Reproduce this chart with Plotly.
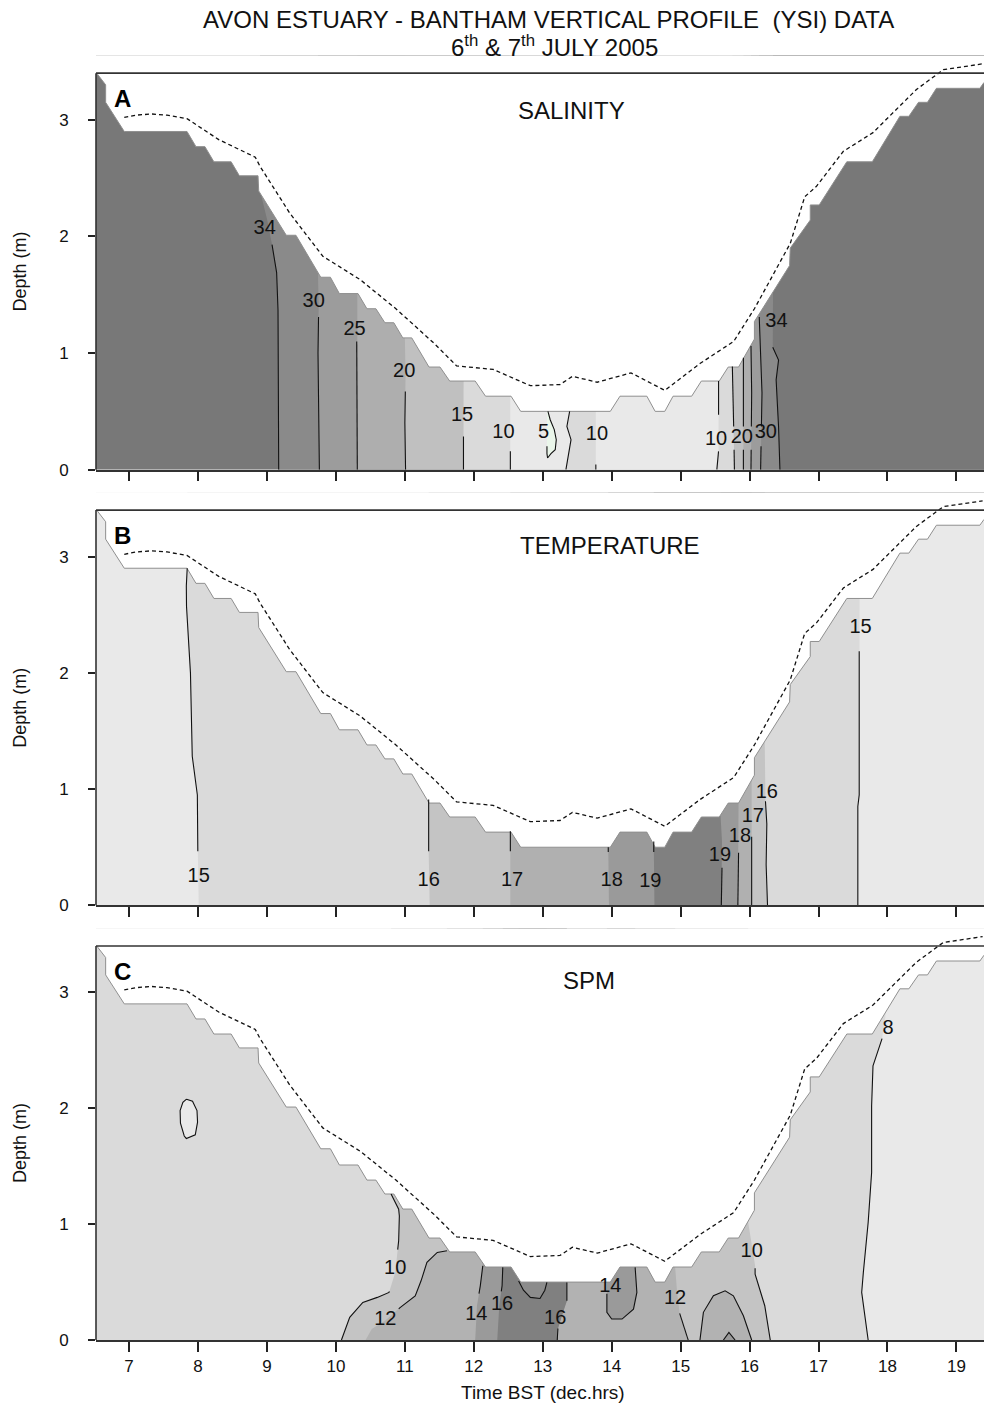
import plotly.graph_objects as go

# ---------------- data ----------------
TIME_TICKS = list(range(7, 20))
DEPTH_TICKS = [0, 1, 2, 3]

# water-surface (top of data) profile: time (h), depth (m)
SURF_T = [6.53, 6.66, 6.66, 6.93, 7.84, 7.97, 8.10, 8.23, 8.48, 8.60, 8.87, 8.88, 9.28, 9.42,
          9.78, 9.92, 10.05, 10.32, 10.45, 10.58, 10.71, 10.84, 10.97, 11.10, 11.35, 11.51,
          11.65, 12.02, 12.17, 12.54, 12.68, 13.98, 14.12, 14.51, 14.63, 14.77, 14.89, 15.16,
          15.30, 15.56, 15.69, 15.84, 16.07, 16.07, 16.58, 16.59, 16.88, 16.88, 17.01, 17.41,
          17.78, 18.18, 18.31, 18.45, 18.58, 18.71, 19.34, 19.40]
SURF_D = [3.40, 3.30, 3.15, 2.90, 2.90, 2.77, 2.77, 2.64, 2.64, 2.52, 2.52, 2.39, 2.01, 2.01,
          1.65, 1.65, 1.51, 1.51, 1.38, 1.38, 1.26, 1.26, 1.13, 1.13, 0.88, 0.88,
          0.76, 0.76, 0.63, 0.63, 0.50, 0.50, 0.63, 0.63, 0.50, 0.50, 0.63, 0.63,
          0.76, 0.76, 0.88, 0.88, 1.12, 1.27, 1.75, 1.90, 2.14, 2.27, 2.27, 2.64,
          2.64, 3.03, 3.03, 3.15, 3.15, 3.27, 3.27, 3.32]

# dashed line (measured water depth)
DASH_T = [6.93, 7.10, 7.33, 7.55, 7.84, 7.97, 8.30, 8.83, 8.90, 9.33, 9.81, 10.35, 10.87, 11.43,
          11.75, 12.28, 12.82, 13.25, 13.43, 13.79, 14.28, 14.77, 15.28, 15.77, 16.07, 16.59,
          16.80, 16.97, 17.36, 17.79, 18.18, 18.42, 18.81, 19.38]
DASH_D = [3.02, 3.04, 3.05, 3.04, 3.01, 2.96, 2.83, 2.68, 2.60, 2.20, 1.83, 1.63, 1.38, 1.08,
          0.89, 0.86, 0.72, 0.73, 0.80, 0.75, 0.83, 0.68, 0.91, 1.10, 1.38, 1.94,
          2.34, 2.43, 2.73, 2.89, 3.12, 3.26, 3.43, 3.48]

# ---- A: salinity contours (time, depth from bed upward) ----
S34L_T = [9.17, 9.16, 9.16, 9.14, 9.08, 9.00, 8.90]
S34L_D = [0.00, 0.80, 1.37, 1.69, 1.91, 2.15, 2.39]
S30L_T = [9.76, 9.75, 9.74, 9.75, 9.74]
S30L_D = [0.00, 0.50, 1.00, 1.40, 1.66]
S25L_T = [10.31, 10.31, 10.30, 10.31]
S25L_D = [0.00, 0.60, 1.20, 1.51]
S20L_T = [11.01, 11.00, 11.01, 11.00]
S20L_D = [0.00, 0.40, 0.80, 1.13]
S15L_T = [11.85, 11.85, 11.86]
S15L_D = [0.00, 0.40, 0.76]
S10L_T = [12.53, 12.53, 12.52]
S10L_D = [0.00, 0.30, 0.63]
S05_T = [13.075, 13.108, 13.167, 13.196, 13.181, 13.119, 13.07, 13.061, 13.061]
S05_D = [0.50, 0.428, 0.343, 0.257, 0.171, 0.137, 0.10, 0.137, 0.20]
S10B_T = [13.336, 13.37, 13.41, 13.35, 13.39]
S10B_D = [0.00, 0.114, 0.257, 0.371, 0.50]
S10C_T = [13.77, 13.77]
S10C_D = [0.00, 0.50]
S10R_T = [15.525, 15.55, 15.55, 15.55]
S10R_D = [0.00, 0.16, 0.47, 0.76]
S15R_T = [15.78, 15.765, 15.75]
S15R_D = [0.00, 0.51, 0.885]
S20R_T = [15.91, 15.91, 15.91]
S20R_D = [0.00, 0.50, 0.96]
S25R_T = [16.02, 16.03, 16.02]
S25R_D = [0.00, 0.66, 1.06]
S30R_T = [16.16, 16.18, 16.14]
S30R_D = [0.00, 0.66, 1.31]
S34R_T = [16.44, 16.435, 16.42, 16.405, 16.385, 16.42, 16.336, 16.34]
S34R_D = [0.00, 0.20, 0.37, 0.54, 0.77, 0.94, 1.043, 1.53]

SAL_LAB_TXT = ["34", "30", "25", "20", "15", "10", "5", "10", "10", "20", "30", "34"]
SAL_LAB_T = [8.967, 9.678, 10.27, 10.99, 11.83, 12.43, 13.012, 13.786, 15.514, 15.887, 16.235, 16.39]
SAL_LAB_D = [2.065, 1.44, 1.20, 0.84, 0.457, 0.314, 0.314, 0.30, 0.257, 0.274, 0.314, 1.27]

# ---- B: temperature contours ----
T15L_T = [8.01, 8.00, 7.997, 7.997, 7.99, 7.916, 7.89, 7.833, 7.83, 7.843]
T15L_D = [0.00, 0.30, 0.466, 0.739, 0.95, 1.283, 2.00, 2.571, 2.75, 2.90]
T16L_T = [11.36, 11.345, 11.345]
T16L_D = [0.00, 0.466, 0.91]
T17L_T = [12.53, 12.53, 12.53]
T17L_D = [0.00, 0.466, 0.638]
T18L_T = [13.96, 13.95, 13.95]
T18L_D = [0.00, 0.46, 0.50]
T19L_T = [14.62, 14.61, 14.61]
T19L_D = [0.00, 0.46, 0.55]
T19R_T = [15.59, 15.60, 15.60, 15.58]
T19R_D = [0.00, 0.33, 0.55, 0.76]
T18R_T = [15.83, 15.84, 15.84]
T18R_D = [0.00, 0.45, 0.88]
T17R_T = [16.03, 16.03, 16.03]
T17R_D = [0.00, 0.59, 1.10]
T16R_T = [16.26, 16.24, 16.25, 16.23, 16.22]
T16R_D = [0.00, 0.35, 0.70, 0.90, 1.38]
T15R_T = [17.57, 17.57, 17.59, 17.59, 17.60]
T15R_D = [0.00, 0.85, 0.95, 2.19, 2.64]

TEMP_LAB_TXT = ["15", "16", "17", "18", "19", "19", "18", "17", "16", "15"]
TEMP_LAB_T = [8.01, 11.345, 12.554, 14.0, 14.56, 15.57, 15.86, 16.046, 16.25, 17.61]
TEMP_LAB_D = [0.24, 0.21, 0.21, 0.21, 0.20, 0.424, 0.59, 0.762, 0.963, 2.39]

# ---- C: SPM contours ----
C08_T = [17.72, 17.626, 17.65, 17.72, 17.77, 17.77, 17.79, 17.92, 17.97]
C08_D = [0.00, 0.411, 0.584, 1.015, 1.446, 2.02, 2.365, 2.595, 2.79]
C08B_T = [7.833, 7.92, 7.985, 7.993, 7.96, 7.83, 7.80, 7.745, 7.74, 7.78, 7.833]
C08B_D = [2.078, 2.06, 1.98, 1.88, 1.77, 1.739, 1.76, 1.87, 1.98, 2.05, 2.078]
C10L_T = [10.08, 10.20, 10.39, 10.60, 10.77, 10.86, 10.91, 10.92, 10.91, 10.80]
C10L_D = [0.00, 0.196, 0.325, 0.368, 0.411, 0.583, 0.856, 1.07, 1.129, 1.259]
C10R_T = [16.30, 16.22, 16.08, 16.08, 15.98]
C10R_D = [0.00, 0.296, 0.569, 0.64, 1.014]
C12L_T = [10.43, 10.52, 10.72, 10.93, 11.15, 11.235, 11.32, 11.47, 11.61]
C12L_D = [0.00, 0.095, 0.17, 0.28, 0.38, 0.511, 0.67, 0.756, 0.77]
C12R_T = [15.11, 14.99, 14.95, 14.92]
C12R_D = [0.00, 0.21, 0.40, 0.63]
C12B_T = [15.28, 15.33, 15.475, 15.645, 15.765, 15.91, 16.03]
C12B_D = [0.00, 0.239, 0.382, 0.425, 0.382, 0.21, 0.00]
C14L_T = [12.02, 12.046, 12.094, 12.13]
C14L_D = [0.00, 0.296, 0.468, 0.64]
C16L_T = [12.34, 12.37, 12.41, 12.42]
C16L_D = [0.00, 0.30, 0.468, 0.627]
C16R_T = [13.21, 13.22, 13.30, 13.35, 13.35]
C16R_D = [0.00, 0.10, 0.25, 0.34, 0.497]
C16U_T = [12.65, 12.72, 12.82, 12.96, 13.03, 13.06]
C16U_D = [0.51, 0.43, 0.368, 0.359, 0.43, 0.497]
C14B_T = [13.93, 13.93, 14.00, 14.15, 14.316, 14.365, 14.34]
C14B_D = [0.40, 0.239, 0.181, 0.181, 0.267, 0.411, 0.627]
C14S_T = [15.62, 15.70, 15.79]
C14S_D = [0.00, 0.066, 0.00]

SPM_LAB_TXT = ["10", "12", "14", "16", "16", "14", "12", "10", "8"]
SPM_LAB_T = [10.86, 10.717, 12.036, 12.41, 13.18, 13.98, 14.92, 16.03, 18.01]
SPM_LAB_D = [0.612, 0.172, 0.216, 0.30, 0.18, 0.457, 0.353, 0.756, 2.687]

PANEL_LETTERS = ["A", "B", "C"]
PANEL_NAMES = ["SALINITY", "TEMPERATURE", "SPM"]

# ---------------- layout constants ----------------
W, H = 984, 1418       # page height; positions below are given on a 1409-row grid
REF_H = 1409
ML = 96
X0, X1 = 6.52, 19.40
Y1 = 3.55          # axis top (frame drawn at 3.4)
FRAME_TOP = 3.40
YT, XR = 3.9, 19.8
FONT = "Liberation Sans, Arial, Helvetica, sans-serif"
# panel bottom pixel rows & pixels per metre
PANEL_PX = [(470, 116.7), (906, 116.33), (1341, 116.0)]
DOMAINS = [(1 - b / REF_H, 1 - (b - Y1 * s) / REF_H) for b, s in PANEL_PX]

LINE_C = "#111111"
EDGE_C = "#8f8f8f"


def px_y(py):
    return 1 - py / REF_H


def px_x(px):
    return (px - ML) / (W - ML)


def cut(t, d, lo=-1e9, hi=1e9):
    xs, ys = [], []
    open_ = False
    for i in range(len(t) - 1):
        t0, d0, t1, d1 = t[i], d[i], t[i + 1], d[i + 1]
        if d1 != d0:
            sa, sb = (lo - d0) / (d1 - d0), (hi - d0) / (d1 - d0)
            s0, s1 = max(0.0, min(sa, sb)), min(1.0, max(sa, sb))
        else:
            s0, s1 = (0.0, 1.0) if lo <= d0 <= hi else (1.0, 0.0)
        if s0 >= s1:
            if open_:
                xs.append(None); ys.append(None); open_ = False
            continue
        if not (open_ and s0 == 0.0):
            if open_:
                xs.append(None); ys.append(None)
            xs.append(t0 + s0 * (t1 - t0)); ys.append(d0 + s0 * (d1 - d0))
        xs.append(t0 + s1 * (t1 - t0)); ys.append(d0 + s1 * (d1 - d0))
        open_ = s1 == 1.0
        if not open_:
            xs.append(None); ys.append(None)
    return xs, ys


def drawn(t, d, keep):
    xs, ys = [], []
    for lo, hi in keep:
        a, b = cut(t, d, lo, hi)
        xs += a + [None]; ys += b + [None]
    return xs, ys


def right_poly(t, d):
    return t + [t[-1], XR, XR, t[0]], d + [YT, YT, 0, 0]


def between_poly(tl, dl, tr, dr):
    return tl + [tl[-1], tr[-1]] + tr[::-1], dl + [YT, YT] + dr[::-1]


def cap_poly(t, d):
    return t + [t[-1], t[0]], d + [YT, YT]


fig = go.Figure()


def axes(n):
    return ("x%d" % n if n > 1 else "x"), ("y%d" % n if n > 1 else "y")


def add_fill(n, xy, color):
    xa, ya = axes(n)
    fig.add_trace(go.Scatter(x=xy[0], y=xy[1], xaxis=xa, yaxis=ya, mode="lines", fill="toself",
                             fillcolor=color, line=dict(width=0, color=color),
                             hoverinfo="skip", showlegend=False))


def add_line(n, xy, color=LINE_C, width=1.1, dash=None):
    xa, ya = axes(n)
    fig.add_trace(go.Scatter(x=xy[0], y=xy[1], xaxis=xa, yaxis=ya, mode="lines",
                             line=dict(width=width, color=color, dash=dash),
                             connectgaps=False, hoverinfo="skip", showlegend=False))


def add_labels(n, ts, ds, txt):
    xa, ya = axes(n)
    fig.add_trace(go.Scatter(x=ts, y=ds, text=txt, mode="text", textposition="middle center",
                             xaxis=xa, yaxis=ya,
                             textfont=dict(family=FONT, size=20, color="#111111"),
                             hoverinfo="skip", showlegend=False))


def base(n, color):
    add_fill(n, ([X0, XR, XR, X0], [0, 0, YT, YT]), color)


def finish(n):
    mask_t = [6.3, X0 - 0.01] + SURF_T + [XR, XR, 6.3]
    mask_d = [3.40, 3.40] + SURF_D + [SURF_D[-1], YT, YT]
    add_fill(n, (mask_t, mask_d), "#ffffff")
    add_line(n, (SURF_T, SURF_D), color=EDGE_C, width=1.0)


# ---------- panel A ----------
base(1, "#787878")
for (t, d), c in [((S34L_T, S34L_D), "#8a8a8a"), ((S30L_T, S30L_D), "#9c9c9c"),
                  ((S25L_T, S25L_D), "#aeaeae"), ((S20L_T, S20L_D), "#c0c0c0"),
                  ((S15L_T, S15L_D), "#dadada"), ((S10L_T, S10L_D), "#e9e9e9")]:
    add_fill(1, right_poly(t, d), c)
add_fill(1, cap_poly(S05_T, S05_D), "#eaf6ea")
for (t, d), c in [((S10B_T, S10B_D), "#dadada"), ((S10C_T, S10C_D), "#e9e9e9"),
                  ((S10R_T, S10R_D), "#dadada"), ((S15R_T, S15R_D), "#c0c0c0"),
                  ((S20R_T, S20R_D), "#aeaeae"), ((S25R_T, S25R_D), "#9c9c9c"),
                  ((S30R_T, S30R_D), "#8a8a8a"), ((S34R_T, S34R_D), "#787878")]:
    add_fill(1, right_poly(t, d), c)
finish(1)
for t, d, keep in [(S34L_T, S34L_D, [(-1, 1.93)]), (S30L_T, S30L_D, [(-1, 1.31)]),
                   (S25L_T, S25L_D, [(-1, 1.10)]), (S20L_T, S20L_D, [(-1, 0.67)]),
                   (S15L_T, S15L_D, [(-1, 0.285)]), (S10L_T, S10L_D, [(-1, 0.157)]),
                   (S05_T, S05_D, [(-1, 9)]), (S10B_T, S10B_D, [(-1, 9)]),
                   (S10C_T, S10C_D, [(-1, 0.045)]),
                   (S10R_T, S10R_D, [(-1, 0.157), (0.471, 9)]),
                   (S15R_T, S15R_D, [(-1, 0.17), (0.37, 9)]),
                   (S20R_T, S20R_D, [(-1, 0.17), (0.37, 9)]),
                   (S25R_T, S25R_D, [(-1, 0.17), (0.37, 9)]),
                   (S30R_T, S30R_D, [(-1, 0.20), (0.37, 9)]),
                   (S34R_T, S34R_D, [(-1, 1.05)])]:
    add_line(1, drawn(t, d, keep))
add_labels(1, SAL_LAB_T, SAL_LAB_D, SAL_LAB_TXT)

# ---------- panel B ----------
base(2, "#e9e9e9")
for (t, d), c in [((T15L_T, T15L_D), "#dadada"), ((T16L_T, T16L_D), "#c4c4c4"),
                  ((T17L_T, T17L_D), "#b0b0b0"), ((T18L_T, T18L_D), "#9a9a9a"),
                  ((T19L_T, T19L_D), "#808080"), ((T19R_T, T19R_D), "#9a9a9a"),
                  ((T18R_T, T18R_D), "#b0b0b0"), ((T17R_T, T17R_D), "#c4c4c4"),
                  ((T16R_T, T16R_D), "#dadada"), ((T15R_T, T15R_D), "#e9e9e9")]:
    add_fill(2, right_poly(t, d), c)
finish(2)
for t, d, keep in [(T15L_T, T15L_D, [(0.466, 9)]), (T16L_T, T16L_D, [(0.466, 9)]),
                   (T17L_T, T17L_D, [(0.466, 9)]), (T18L_T, T18L_D, [(0.46, 9)]),
                   (T19L_T, T19L_D, [(0.46, 9)]), (T19R_T, T19R_D, [(-1, 0.324)]),
                   (T18R_T, T18R_D, [(-1, 0.453)]), (T17R_T, T17R_D, [(-1, 0.59)]),
                   (T16R_T, T16R_D, [(-1, 0.896)]), (T15R_T, T15R_D, [(-1, 2.186)])]:
    add_line(2, drawn(t, d, keep))
add_labels(2, TEMP_LAB_T, TEMP_LAB_D, TEMP_LAB_TXT)

# ---------- panel C ----------
base(3, "#dadada")
add_fill(3, right_poly(C08_T, C08_D), "#e9e9e9")
add_fill(3, (C08B_T, C08B_D), "#e9e9e9")
add_fill(3, between_poly(C10L_T, C10L_D, C10R_T, C10R_D), "#c4c4c4")
add_fill(3, between_poly(C12L_T, C12L_D, C12R_T, C12R_D), "#b2b2b2")
add_fill(3, (C12B_T, C12B_D), "#b2b2b2")
add_fill(3, (C14S_T, C14S_D), "#9a9a9a")
add_fill(3, between_poly(C14L_T, C14L_D, C16R_T, C16R_D), "#9a9a9a")
add_fill(3, between_poly(C16L_T, C16L_D, C16R_T, C16R_D), "#808080")
add_fill(3, cap_poly(C16U_T, C16U_D), "#8c8c8c")
add_fill(3, cap_poly(C14B_T, C14B_D), "#9a9a9a")
finish(3)
for t, d, keep in [(C08_T, C08_D, [(-1, 2.6)]), (C10L_T, C10L_D, [(-1, 0.42), (0.78, 9)]),
                   (C10R_T, C10R_D, [(-1, 0.62)]), (C12L_T, C12L_D, [(0.27, 9)]),
                   (C12R_T, C12R_D, [(-1, 0.23)]), (C14L_T, C14L_D, [(0.40, 9)]),
                   (C16L_T, C16L_D, [(0.42, 9)]), (C16R_T, C16R_D, [(-1, 0.10), (0.34, 9)])]:
    add_line(3, drawn(t, d, keep))
for t, d in [(C08B_T, C08B_D), (C12B_T, C12B_D), (C14S_T, C14S_D), (C16U_T, C16U_D),
             (C14B_T, C14B_D)]:
    add_line(3, (t, d))
add_labels(3, SPM_LAB_T, SPM_LAB_D, SPM_LAB_TXT)

# dashed lines on all panels
for n in (1, 2, 3):
    add_line(n, (DASH_T, DASH_D), color="#111111", width=1.3, dash="4px,3px")

# ---------------- layout ----------------
layout = dict(width=W, height=H, margin=dict(l=ML, r=0, t=0, b=0),
              paper_bgcolor="white", plot_bgcolor="white", showlegend=False,
              font=dict(family=FONT, color="#111111"))
shapes, annotations = [], []
for i in range(3):
    n = i + 1
    xs = "" if n == 1 else str(n)
    d0, d1 = DOMAINS[i]
    layout["xaxis" + xs] = dict(domain=[0, 1], range=[X0, X1], anchor="y" + xs,
                                tickvals=TIME_TICKS, ticks="outside", ticklen=10, tickwidth=1.5,
                                tickcolor="#222222", showline=True, linecolor="#333333",
                                linewidth=1.5, showgrid=False, zeroline=False,
                                showticklabels=(n == 3), tickfont=dict(size=17, family=FONT))
    layout["yaxis" + xs] = dict(domain=[d0, d1], range=[0, Y1], anchor="x" + xs,
                                tickvals=DEPTH_TICKS, ticks="outside", ticklen=7, tickwidth=1.5,
                                tickcolor="#222222", showline=False, showgrid=False,
                                zeroline=False, tickfont=dict(size=17, family=FONT),
                                ticklabelstandoff=16)
    ytop = d0 + FRAME_TOP / Y1 * (d1 - d0)
    shapes.append(dict(type="line", xref="paper", yref="paper", x0=0, x1=1, y0=ytop, y1=ytop,
                       line=dict(color="#333333", width=1.6), layer="above"))
    shapes.append(dict(type="line", xref="paper", yref="paper", x0=0, x1=0, y0=d0, y1=ytop,
                       line=dict(color="#333333", width=1.6), layer="above"))
    annotations.append(dict(text="<b>%s</b>" % PANEL_LETTERS[i], x=6.906, y=3.18,
                            xref="x" + xs, yref="y" + xs, showarrow=False,
                            xanchor="center", yanchor="middle",
                            font=dict(size=24, family=FONT, color="#000000")))
    annotations.append(dict(text=PANEL_NAMES[i], x=[13.413, 13.978, 13.674][i],
                            y=[3.076, 3.095, 3.103][i], xref="x" + xs, yref="y" + xs,
                            showarrow=False, xanchor="center", yanchor="middle",
                            font=dict(size=24, family=FONT, color="#111111")))
    annotations.append(dict(text="Depth (m)", textangle=-90, x=px_x(20),
                            y=(d0 + ytop) / 2, xref="paper", yref="paper", showarrow=False,
                            xanchor="center", yanchor="middle",
                            font=dict(size=18, family=FONT, color="#111111")))

annotations.append(dict(text="AVON ESTUARY - BANTHAM VERTICAL PROFILE  (YSI) DATA",
                        x=px_x(548), y=px_y(20), xref="paper", yref="paper",
                        xanchor="center", yanchor="middle",
                        showarrow=False, font=dict(size=24, family=FONT, color="#111111")))
annotations.append(dict(text="6<sup>th</sup> & 7<sup>th</sup> JULY 2005",
                        x=px_x(554), y=px_y(46), xref="paper", yref="paper",
                        xanchor="center", yanchor="middle",
                        showarrow=False, font=dict(size=24, family=FONT, color="#111111")))
annotations.append(dict(text="Time BST (dec.hrs)", x=px_x(543), y=px_y(1393),
                        xref="paper", yref="paper", showarrow=False,
                        xanchor="center", yanchor="middle",
                        font=dict(size=19, family=FONT, color="#111111")))
layout["shapes"] = shapes
layout["annotations"] = annotations
fig.update_layout(**layout)
fig.write_html("out.html")
